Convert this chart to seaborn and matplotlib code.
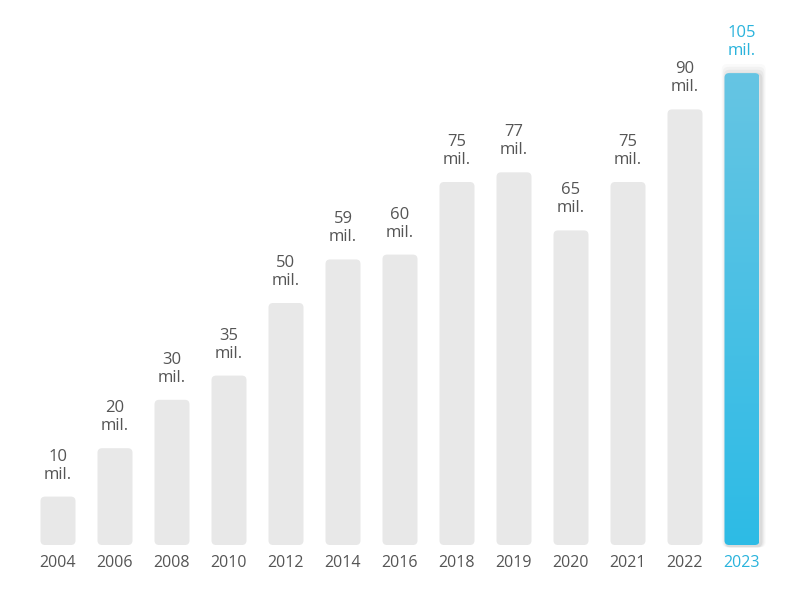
import matplotlib
matplotlib.use("Agg")
import matplotlib.pyplot as plt
import seaborn as sns
import numpy as np
import pandas as pd
from matplotlib.patches import FancyBboxPatch

years = ["2004","2006","2008","2010","2012","2014","2016","2018","2019","2020","2021","2022","2023"]
values = [10, 20, 30, 35, 50, 59, 60, 75, 77, 65, 75, 90, 105]
# bar heights as drawn in the picture (last bar is drawn shorter than its label)
bar_heights = [10, 20, 30, 35, 50, 59, 60, 75, 77, 65, 75, 90, 97.5]

sns.set_theme(style="white")
plt.rcParams['font.family'] = ['Open Sans', 'DejaVu Sans']

fig = plt.figure(figsize=(8, 6.02), dpi=100)
ax = fig.add_axes([0, 0, 1, 1])
df = pd.DataFrame({"year": years, "h": bar_heights})
sns.barplot(data=df, x="year", y="h", ax=ax, width=35/57, color="#e8e8e8", saturation=1)
pxu = 4.84
ax.set_xlim(-58/57, (800-58)/57)
ax.set_ylim(-57/pxu, 545/pxu)
ax.axis("off")

aspect = (1/pxu)/(1/57)
blue = "#2ab3dc"
for i, p in enumerate(list(ax.patches)):
    x0, w, h = p.get_x(), p.get_width(), p.get_height()
    p.set_visible(False)
    if i == len(years) - 1:
        for k, a in enumerate([0.05, 0.04, 0.03, 0.02]):
            sh = FancyBboxPatch((x0 - 0.02*(k+1) + 0.03, -0.5), w + 0.04*(k+1), h + 0.6*(k+1),
                                boxstyle="round,pad=0,rounding_size=0.1", mutation_aspect=aspect,
                                fc="black", ec="none", alpha=a, zorder=1)
            ax.add_patch(sh)
    fb = FancyBboxPatch((x0, 0), w, h, boxstyle="round,pad=0,rounding_size=0.08",
                        mutation_aspect=aspect, fc="#e8e8e8", ec="none", zorder=2)
    ax.add_patch(fb)
    if i == len(years) - 1:
        grad = np.linspace(0, 1, 256).reshape(-1, 1)
        cmap = matplotlib.colors.LinearSegmentedColormap.from_list("g", ["#2dbbe6", "#66c5e3"])
        im = ax.imshow(grad, extent=(x0, x0 + w, 0, h), origin="lower", cmap=cmap,
                       aspect="auto", zorder=3)
        im.set_clip_path(fb)
    col = blue if i == len(years) - 1 else "#555555"
    ax.text(i, h + 40/pxu, f"{values[i]}", ha="center", va="center", fontsize=12, color=col)
    ax.text(i, h + 22/pxu, "mil.", ha="center", va="center", fontsize=12, color=col)
    ax.text(i, -18/pxu, years[i], ha="center", va="center", fontsize=11.5, color=col)

ax.set_xlim(-58/57, (800-58)/57)
ax.set_ylim(-57/pxu, 545/pxu)
fig.savefig("out.png", dpi=100, facecolor="white")
